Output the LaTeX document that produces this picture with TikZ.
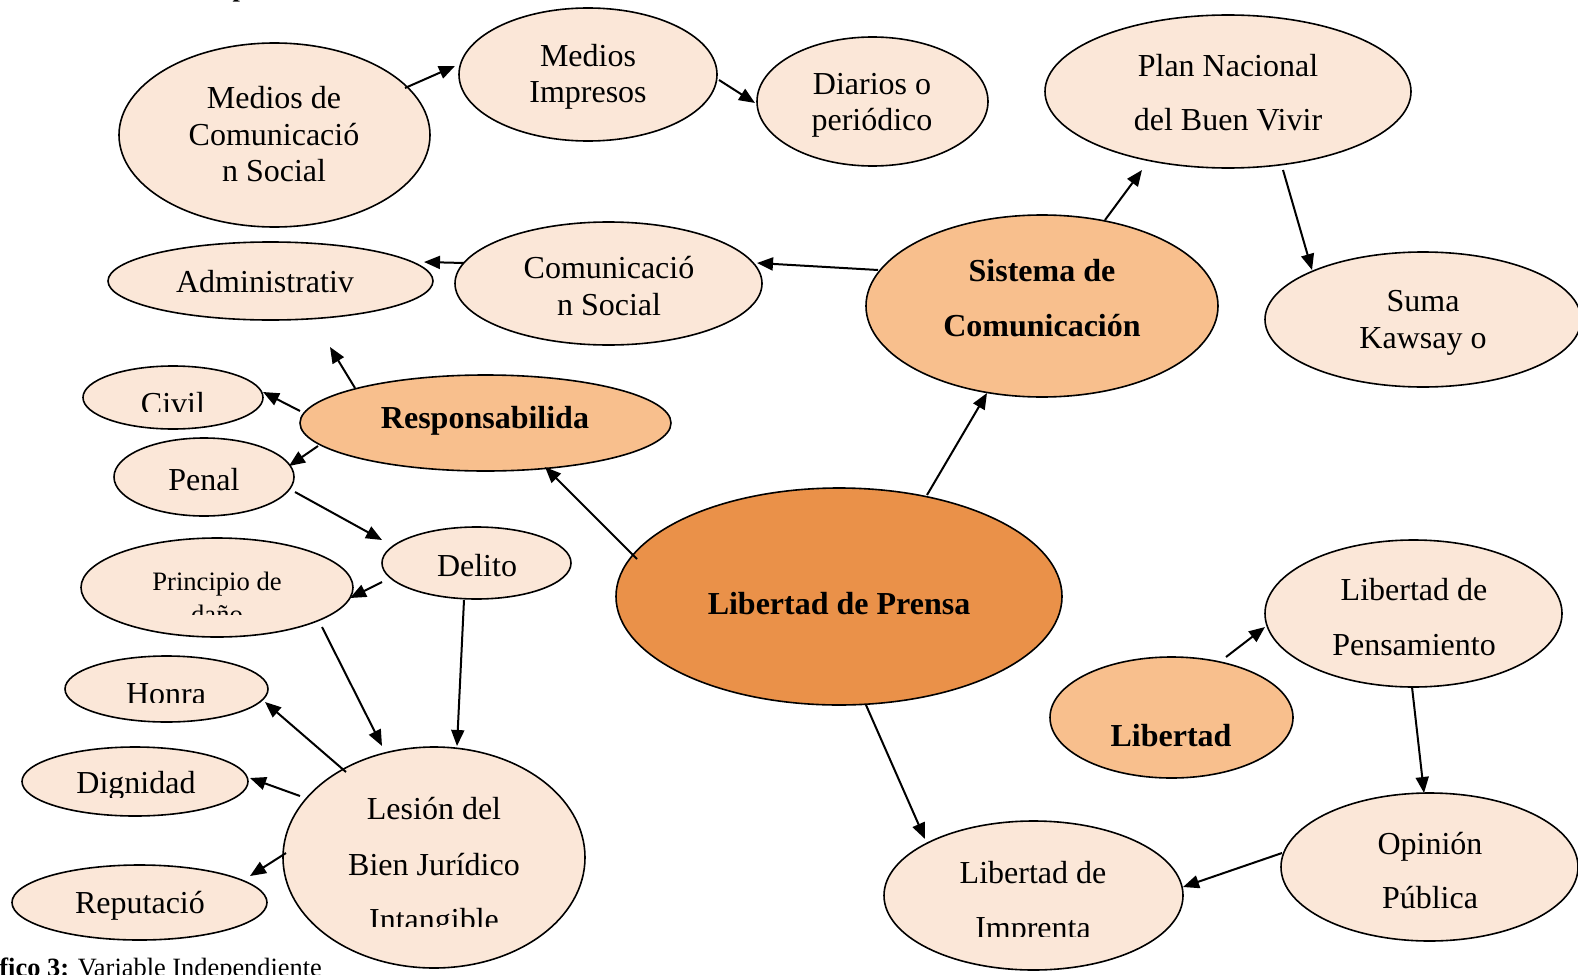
\documentclass[tikz,border=0pt]{standalone}
\usepackage{fontspec}
\setmainfont{Liberation Serif}
\usetikzlibrary{shapes.geometric,arrows.meta,calc}
\definecolor{lite}{HTML}{FBE7D8}
\definecolor{mid}{HTML}{F8BF8D}
\definecolor{dark}{HTML}{EA9149}
\begin{document}
\begin{tikzpicture}[x=0.5pt,y=-0.5pt,
  bub/.style={ellipse,draw=black,line width=0.8pt,inner sep=0pt,outer sep=0pt},
  light/.style={bub,fill=lite},
  medium/.style={bub,fill=mid},
  strong/.style={bub,fill=dark},
  txt/.style={anchor=base,inner sep=0pt,font=\fontsize{16}{18}\selectfont},
  btxt/.style={anchor=base,inner sep=0pt,font=\fontsize{16}{18}\selectfont\bfseries},
  stxt/.style={anchor=base,inner sep=0pt,font=\fontsize{13.3}{16}\selectfont},
  arr/.style={line width=1pt,-{Triangle[length=8pt,width=6.5pt]}}]

% ellipses
\node[light,minimum width=155.5pt,minimum height=92pt] (MCS) at (274.5,135) {};
\node[light,minimum width=129pt,minimum height=66.5pt] (MI) at (588,74.5) {};
\node[light,minimum width=115.5pt,minimum height=64.5pt] (DP) at (872.5,101.5) {};
\node[light,minimum width=183pt,minimum height=76.5pt] (PN) at (1228,91.5) {};
\node[light,minimum width=158pt,minimum height=67.5pt] (SK) at (1423,319.5) {};
\node[light,minimum width=162.5pt,minimum height=39pt] (AD) at (270.5,281) {};
\node[light,minimum width=153.5pt,minimum height=61.5pt] (CS) at (608.5,283.5) {};
\node[medium,minimum width=176pt,minimum height=91pt] (SC) at (1042,306) {};
\node[light,minimum width=90pt,minimum height=31.5pt] (CV) at (173,397.5) {};
\node[medium,minimum width=185.5pt,minimum height=48pt] (RS) at (485.5,423) {};
\node[light,minimum width=90pt,minimum height=39pt] (PE) at (204,477) {};
\node[light,minimum width=94.5pt,minimum height=36pt] (DE) at (476.5,563) {};
\node[light,minimum width=136pt,minimum height=49.5pt] (PD) at (217,587.5) {};
\node[strong,minimum width=223pt,minimum height=108.5pt] (LP) at (839,596.5) {};
\node[light,minimum width=101.5pt,minimum height=33pt] (HO) at (166.5,689) {};
\node[light,minimum width=113pt,minimum height=34.5pt] (DI) at (135,781.5) {};
\node[light,minimum width=127.5pt,minimum height=37.5pt] (RE) at (139.5,902.5) {};
\node[light,minimum width=151pt,minimum height=110.5pt] (LB) at (434,857.5) {};
\node[light,minimum width=148.5pt,minimum height=73.5pt] (LPen) at (1413.5,613.5) {};
\node[medium,minimum width=121.5pt,minimum height=60.5pt] (LI) at (1171.5,717.5) {};
\node[light,minimum width=148.5pt,minimum height=74pt] (OP) at (1429.5,867) {};
\node[light,minimum width=149.5pt,minimum height=74.5pt] (LIm) at (1033.5,895.5) {};

% texts
\node[txt] (tMCSa) at (274,109) {Medios de};
\node[txt] (tMCSb) at (274,145) {Comunicació};
\node[txt] (tMCSc) at (274,181) {n Social};
\node[txt] (tMIa) at (588,67) {Medios};
\node[txt] (tMIb) at (588,103) {Impresos};
\node[txt] (tDPa) at (872,95) {Diarios o};
\node[txt] (tDPb) at (872,131) {periódico};
\node[txt] (tPNa) at (1228,77) {Plan Nacional};
\node[txt] (tPNb) at (1228,131) {del Buen Vivir};
\node[txt] (tSKa) at (1423,311) {Suma};
\node[txt] (tSKb) at (1423,348) {Kawsay o};
\node[txt] (tAD) at (265,292) {Administrativ};
\node[txt] (tCSa) at (609,278) {Comunicació};
\node[txt] (tCSb) at (609,315) {n Social};
\node[btxt] (tSCa) at (1042,281) {Sistema de};
\node[btxt] (tSCb) at (1042,336) {Comunicación};
\begin{scope}
  \clip (80,360) rectangle (270,411);
  \node[txt] (tCV) at (173,414) {Civil};
\end{scope}
\node[btxt] (tRS) at (485,428) {Responsabilida};
\node[txt] (tPE) at (204,490) {Penal};
\node[txt] (tDE) at (477,576) {Delito};
\node[stxt] (tPDa) at (217,590) {Principio de};
\begin{scope}
  \clip (80,595) rectangle (360,614);
  \node[stxt] (tPDb) at (217,623) {daño};
\end{scope}
\node[btxt] (tLP) at (839,614) {Libertad de Prensa};
\begin{scope}
  \clip (60,650) rectangle (270,702);
  \node[txt] (tHO) at (166,704) {Honra};
\end{scope}
\begin{scope}
  \clip (20,740) rectangle (250,797);
  \node[txt] (tDI) at (136,793) {Dignidad};
\end{scope}
\node[txt] (tRE) at (140,913) {Reputació};
\node[txt] (tLBa) at (434,819) {Lesión del};
\node[txt] (tLBb) at (434,875) {Bien Jurídico};
\begin{scope}
  \clip (290,880) rectangle (580,926);
  \node[txt] (tLBc) at (434,930) {Intangible};
\end{scope}
\node[txt] (tLPena) at (1414,600) {Libertad de};
\node[txt] (tLPenb) at (1414,655) {Pensamiento};
\node[btxt] (tLI) at (1171,746) {Libertad};
\node[txt] (tOPa) at (1430,854) {Opinión};
\node[txt] (tOPb) at (1430,908) {Pública};
\node[txt] (tLIma) at (1033,883) {Libertad de};
\begin{scope}
  \clip (890,890) rectangle (1180,936);
  \node[txt] (tLImb) at (1033,938) {Imprenta};
\end{scope}

% fragments of surrounding page text
\node[anchor=base,inner sep=0pt,font=\fontsize{13.2}{16}\selectfont\bfseries] (ptop) at (240,-3) {p};
\node[anchor=base west,inner sep=0pt,font=\fontsize{13.2}{16}\selectfont] (cap) at (-1,976) {\textbf{fico 3:} Variable Independiente};

% connectors
\coordinate (g1) at (330,347);
\draw[arr] ($(MCS)+(130.5,-47)$) -- ($(MI)+(-133,-8.5)$);
\draw[arr] ($(MI)+(131,5.5)$) -- ($(DP)+(-117.5,1.5)$);
\draw[arr] ($(SC)+(63,-86)$) -- ($(PN)+(-86,78.5)$);
\draw[arr] ($(PN)+(55,78.5)$) -- ($(SK)+(-111,-49.5)$);
\draw[arr] ($(CS)+(-144.5,-20.5)$) -- ($(AD)+(153.5,-19)$);
\draw[arr] ($(SC)+(-164,-36)$) -- ($(CS)+(148.5,-20.5)$);
\draw[arr] ($(RS)+(-130.5,-35)$) -- (g1);
\draw[arr] ($(RS)+(-185.5,-12)$) -- ($(CV)+(90,-5.5)$);
\draw[arr] ($(RS)+(-167.5,23)$) -- ($(PE)+(85,-11)$);
\draw[arr] ($(PE)+(91,15)$) -- ($(DE)+(-94.5,-23)$);
\draw[arr] ($(DE)+(-94.5,19)$) -- ($(PD)+(133,10.5)$);
\draw[arr] ($(DE)+(-12.5,37)$) -- ($(LB)+(23,-111.5)$);
\draw[arr] ($(PD)+(105,39.5)$) -- ($(LB)+(-52,-111.5)$);
\draw[arr] ($(LB)+(-88,-85.5)$) -- ($(HO)+(98.5,13)$);
\draw[arr] ($(LB)+(-134,-61.5)$) -- ($(DI)+(115,-3.5)$);
\draw[arr] ($(LB)+(-148,-4.5)$) -- ($(RE)+(110.5,-26.5)$);
\draw[arr] ($(LP)+(-202,-37.5)$) -- ($(RS)+(59.5,44)$);
\draw[arr] ($(LP)+(88,-101.5)$) -- ($(SC)+(-55,87)$);
\draw[arr] ($(LP)+(27,108.5)$) -- ($(LIm)+(-108.5,-56.5)$);
\draw[arr] ($(LI)+(54.5,-60.5)$) -- ($(LPen)+(-148.5,13.5)$);
\draw[arr] ($(LPen)+(-1.5,73.5)$) -- ($(OP)+(-5.5,-74)$);
\draw[arr] ($(OP)+(-147.5,-14)$) -- ($(LIm)+(149.5,-8.5)$);

\pgfresetboundingbox
\path[use as bounding box] (0,0) rectangle (1578,974);
\end{tikzpicture}
\end{document}
